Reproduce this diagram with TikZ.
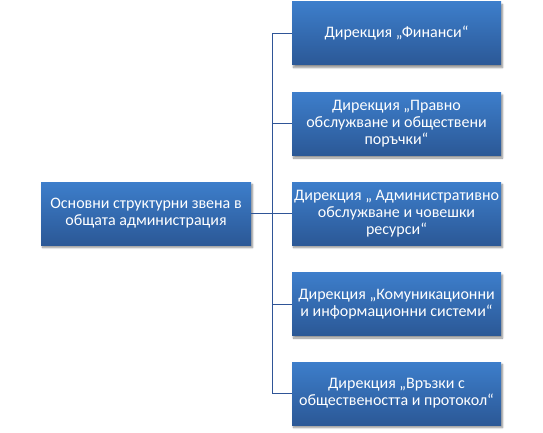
\documentclass[tikz,border=0pt]{standalone}
\usepackage{fontspec}
\setmainfont{Carlito}
\usetikzlibrary{shadows.blur}
\definecolor{boxtop}{RGB}{61,126,203}
\definecolor{boxbot}{RGB}{43,88,150}
\definecolor{linec}{RGB}{47,85,151}
\tikzset{
  boxnode/.style={rectangle, minimum width=209pt, minimum height=63pt, inner sep=0pt,
    top color=boxtop, bottom color=boxbot, text=white, align=center,
    font=\fontsize{16}{17}\selectfont,
    blur shadow={shadow xshift=1.5pt, shadow yshift=-2.5pt, shadow blur steps=6, shadow opacity=45}},
  conn/.style={draw=linec, line width=1pt}
}
\begin{document}
\begin{tikzpicture}[x=1pt,y=-1pt]
\useasboundingbox (0,0) rectangle (543,433);
\node[boxnode, minimum width=210pt] (L) at (146,213.5) {Основни структурни звена в\\общата администрация};
\node[boxnode] (B1) at (396.5,33.5) {Дирекция „Финанси“};
\node[boxnode] (B2) at (396.5,124) {Дирекция „Правно\\обслужване и обществени\\поръчки“};
\node[boxnode] (B3) at (396.5,213.5) {Дирекция „ Административно\\обслужване и човешки\\ресурси“};
\node[boxnode] (B4) at (396.5,304) {Дирекция „Комуникационни\\и информационни системи“};
\node[boxnode] (B5) at (396.5,393.5) {Дирекция „Връзки с\\обществеността и протокол“};
\coordinate (hub) at (272,213.5);
\draw[conn] (L.east) -- (hub);
\foreach \b in {B1,B2,B3,B4,B5}{
  \draw[conn] (hub) |- (\b.west);
}
\end{tikzpicture}
\end{document}
